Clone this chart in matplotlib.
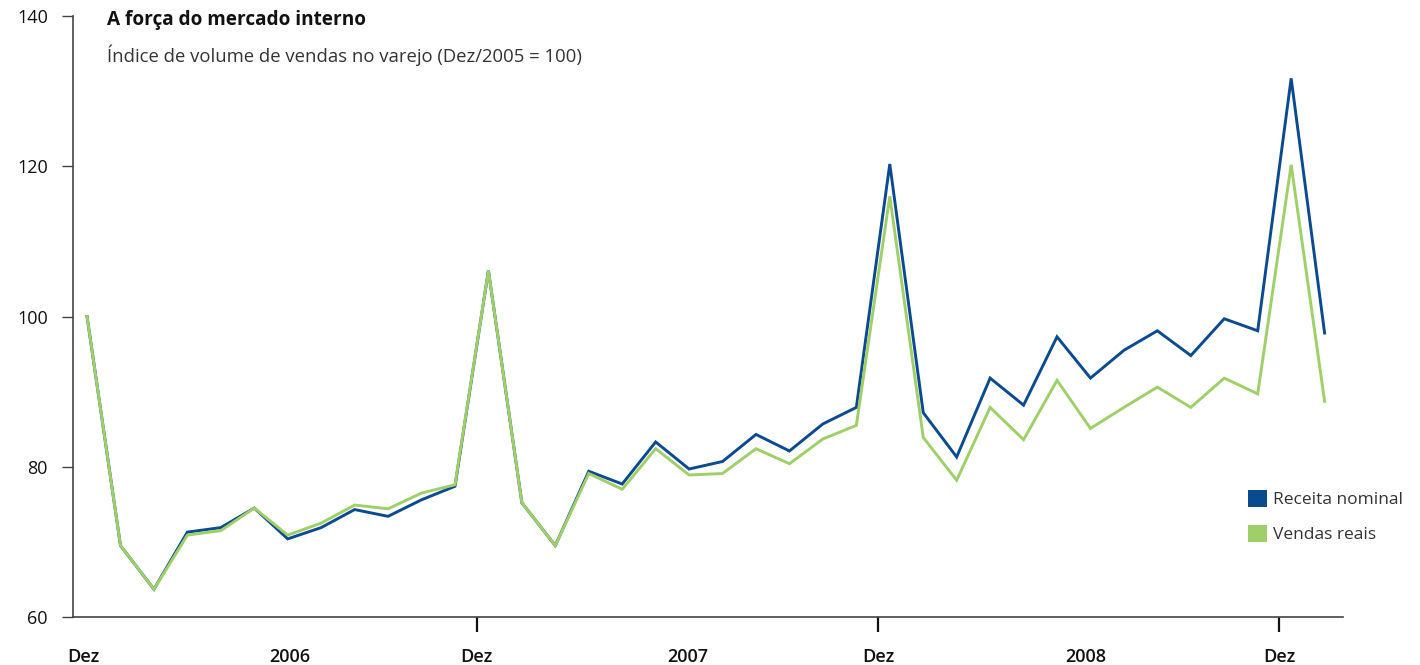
import matplotlib.pyplot as plt
from matplotlib.patches import Patch

# Dez/2005 .. Jan/2009, one point per month
receita_nominal = [100.0, 69.5, 63.7, 71.3, 71.9, 74.5, 70.4, 71.9, 74.3, 73.4, 75.6, 77.4,
                   106.1, 75.2, 69.5, 79.4, 77.7, 83.3, 79.7, 80.7, 84.3, 82.1, 85.7, 87.9,
                   120.3, 87.2, 81.3, 91.8, 88.2, 97.3, 91.8, 95.5, 98.1, 94.8, 99.7, 98.1,
                   131.7, 97.8]
vendas_reais = [100.0, 69.5, 63.7, 70.9, 71.5, 74.5, 70.9, 72.5, 74.9, 74.4, 76.5, 77.6,
                106.1, 75.2, 69.5, 79.1, 77.0, 82.4, 78.9, 79.1, 82.4, 80.4, 83.7, 85.5,
                116.0, 83.9, 78.2, 87.9, 83.6, 91.5, 85.1, 87.9, 90.6, 87.9, 91.8, 89.7,
                120.2, 88.7]
series_names = ['Receita nominal', 'Vendas reais']
y_ticks = [60, 80, 100, 120, 140]
dez_ticks = [11.65, 23.65, 35.65]
year_pos = [-0.1, 6.05, 17.95, 29.85]
year_labels = ['Dez', '2006', '2007', '2008']

blue = '#0A4A8E'
green = '#9FCF68'

plt.rcParams['font.family'] = ['Open Sans', 'DejaVu Sans']

fig = plt.figure(figsize=(14.2, 6.65), dpi=100)
ax = fig.add_axes([73 / 1420, 1 - 617 / 665, (1343 - 73) / 1420, (617 - 16) / 665])

x = list(range(len(receita_nominal)))
ax.plot(x, receita_nominal, color=blue, lw=2.1, solid_joinstyle='miter')
ax.plot(x, vendas_reais, color=green, lw=2.1, solid_joinstyle='miter')

ax.set_xlim(-0.42, 37.55)
ax.set_ylim(60, 140)

for s in ['top', 'right']:
    ax.spines[s].set_visible(False)
for s in ['left', 'bottom']:
    ax.spines[s].set_color('#444444')
    ax.spines[s].set_linewidth(1.2)

ax.set_yticks(y_ticks)
ax.tick_params(axis='y', length=8, width=1.0, color='#444444', pad=10,
               labelsize=13, labelcolor='#111111')
for lbl in ax.get_yticklabels():
    lbl.set_fontweight('medium')

ax.set_xticks(dez_ticks)
ax.set_xticklabels(['Dez'] * len(dez_ticks))
ax.set_xticks(year_pos, minor=True)
ax.set_xticklabels(year_labels, minor=True)
ax.tick_params(axis='x', which='major', length=11, width=1.6, color='#111111', pad=11,
               labelsize=13, labelcolor='#111111')
ax.tick_params(axis='x', which='minor', length=0, pad=22.5,
               labelsize=13, labelcolor='#111111')
for lbl in ax.get_xticklabels() + ax.get_xticklabels(minor=True):
    lbl.set_fontweight('semibold')

fig.text(107 / 1420, 1 - 20 / 665, 'A força do mercado interno', fontsize=13.7,
         fontweight='bold', color='#111111', va='center', ha='left')
fig.text(107 / 1420, 1 - 55 / 665, 'Índice de volume de vendas no varejo (Dez/2005 = 100)',
         fontsize=13.3, color='#333333', va='center', ha='left')

handles = [Patch(facecolor=blue), Patch(facecolor=green)]
fig.legend(handles, series_names, loc='upper left', bbox_to_anchor=(1243 / 1420, 1 - 485 / 665),
           frameon=False, fontsize=12.5, handlelength=1.1, handleheight=1.1,
           handletextpad=0.35, labelspacing=0.95, borderaxespad=0, borderpad=0.3,
           labelcolor='#333333')

fig.savefig('out.png', dpi=100)
